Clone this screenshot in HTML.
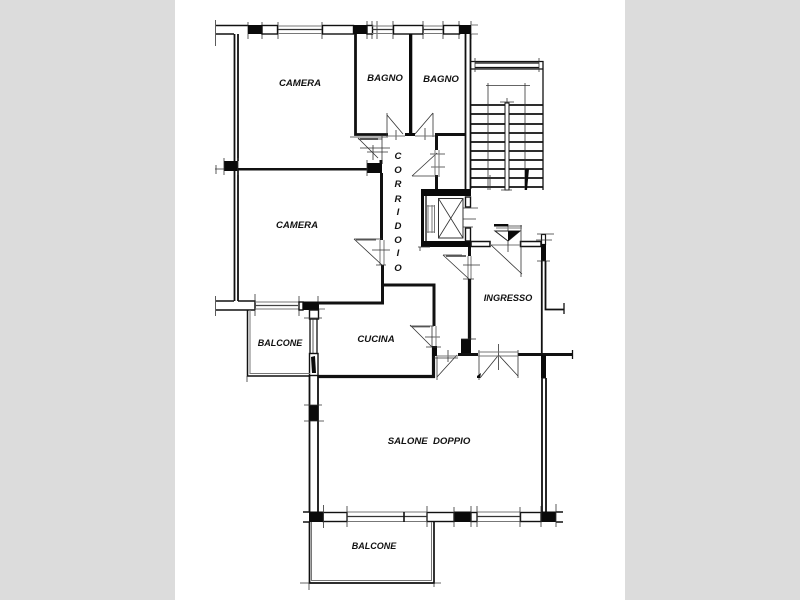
<!DOCTYPE html>
<html><head><meta charset="utf-8"><style>
html,body{margin:0;padding:0;background:#fff;width:800px;height:600px;overflow:hidden}
svg{display:block}
text{font-family:"Liberation Sans",sans-serif;font-weight:bold;font-style:italic;font-size:9.6px;fill:#111;text-anchor:middle}
.w{stroke:#111;fill:none}
.b{fill:#0a0a0a}
.t{stroke:#333;stroke-width:.8;fill:none}
.g{stroke:#777;stroke-width:1;fill:none}
.box{fill:#fff;stroke:#111;stroke-width:1.4}
</style></head><body>
<svg width="800" height="600" viewBox="0 0 800 600" xmlns="http://www.w3.org/2000/svg">
<rect width="800" height="600" fill="#fff"/>
<rect x="0" y="0" width="175" height="600" fill="#dcdcdc"/>
<rect x="625" y="0" width="175" height="600" fill="#dcdcdc"/>

<!-- top wall -->
<path class="w" stroke-width="1.5" d="M216 25.500H248M216 34H234"/>
<path class="t" d="M215.500 20V46M248 22V39M262 22V39M278 22V39M322 22V39M367 21V39M372 21V39M377 21V39M393 21V39M423 21V39M443 21V39M459 21V39M471 21V39"/>
<rect class="b" x="248" y="25" width="14" height="9"/>
<rect class="box" x="262" y="25.500" width="15.500" height="8.500"/>
<rect class="box" x="322.500" y="25.500" width="31" height="8.500"/>
<rect class="b" x="353" y="25" width="14" height="9"/>
<rect class="box" x="367" y="25.500" width="5.500" height="8.500"/>
<rect class="box" x="393.500" y="25.500" width="29.500" height="8.500"/>
<rect class="box" x="443.500" y="25.500" width="16" height="8.500"/>
<rect class="b" x="459" y="25" width="12" height="9"/>
<path class="g" d="M278 26H322M278 33.500H322M372 26H393M372 33.500H393M423 26H443M423 33.500H443M471 25H478M471 34H478"/>
<path stroke="#333" stroke-width="1.300" d="M278 29.500H322M372 29.500H393M423 29.500H443"/>

<!-- left exterior wall -->
<path class="w" stroke-width="1.800" d="M234.500 34V161M238 34V161M234.500 170V301M238 170V301"/>
<rect class="b" x="224" y="161" width="14" height="10"/>
<path class="t" d="M216 165V174M224 158V175M238 158V175M215 169H224"/>
<path class="w" stroke-width="2.500" d="M238 169.300H367"/>
<rect class="b" x="367" y="163" width="15" height="10"/>
<path class="t" d="M367 160V176"/>

<!-- bottom of camera 2 -->
<path class="w" stroke-width="1.600" d="M216 301H234M238 301H255M216 310H255M255 300.500V310"/>
<path class="t" d="M215.500 296V316M255 294V316M299 296V316M318 296V304"/>
<path class="g" d="M255 302H300M255 309H325"/>
<path stroke="#444" stroke-width="1.200" d="M255 305.500H298"/>
<rect class="box" x="299" y="302" width="4" height="8"/>
<rect class="b" x="303" y="301.500" width="16" height="8.500"/>
<path class="w" stroke-width="3" d="M318 303H382.500V265"/>
<path class="w" stroke-width="3" d="M381.500 173V240"/>
<path class="w" stroke-width="3" d="M381 160V164"/>
<path class="g" d="M380 240V265M384 240V265"/>
<path class="t" d="M354 239H382M354 239L382 265M372 250H390M376 265H386"/>
<path stroke="#555" stroke-width="2" d="M356 239.500H376"/>

<!-- bathrooms -->
<path class="w" stroke-width="2.800" d="M355.500 34V134.500H388"/>
<rect class="b" x="409" y="34" width="3.300" height="101"/>
<rect class="b" x="405" y="133" width="10" height="3"/>
<path class="t" d="M387 113V137M387 115L403 134M433 113V137M433 113L415 134M396 130V140M425 128V140M350 137H388"/>
<path class="g" d="M388 136H405M415 136H435"/>
<path class="w" stroke-width="3" d="M435 134.500H466"/>
<path class="w" stroke-width="3" d="M436.500 134V150M436.500 175V189"/>
<path class="t" d="M412 176H440M412 176L437 153M430 154H445M431 167H445"/>
<path class="g" d="M435 150V175M439 150V175"/>
<!-- corridor door -->
<path class="t" d="M358 138L378 158M358 139H382M382 136V160M373 145V160M360 148H390M367 152H388"/>
<path stroke="#555" stroke-width="2" d="M360 139H378"/>

<!-- right service wall -->
<path class="w" stroke-width="1.800" d="M465.500 34V189M470.500 34V189"/>

<!-- stairs -->
<path class="w" stroke-width="1.300" d="M471 61.500H543V190M471 69H543M475 63H539M475 67.500H539"/>
<path class="t" d="M475 58V72M539 58V72"/>
<path class="w" stroke-width="1.800" d="M471 105H505M509 105H543M471 114H505M509 114H543M471 124H505M509 124H543M471 133H505M509 133H543M471 142H505M509 142H543M471 151H505M509 151H543M471 160H505M509 160H543M471 169H505M509 169H543M471 178H505M509 178H543M471 187H505M509 187H543"/>
<rect x="505" y="103" width="4" height="87" fill="#fff" stroke="#111" stroke-width="1"/>
<path class="t" d="M488 83V190M525 83V190M486 85.500H530M488 180V190M490 175V190M500 102H514M501 190H512M507 98V103"/>
<polygon class="b" points="525,169 529,169 527,190 525,190"/>

<!-- elevator -->
<rect class="b" x="421" y="189" width="50" height="7"/>
<rect class="b" x="421" y="241" width="50" height="6"/>
<rect class="b" x="421" y="189" width="3" height="58"/>
<path class="w" stroke-width="1.300" d="M426 196V241"/>
<rect x="438.500" y="198.500" width="24.500" height="39.500" fill="#fff" stroke="#333" stroke-width="1"/>
<path class="t" d="M438.500 198.500L463 238M463 198.500L438.500 238"/>
<path class="g" d="M428 205V233M432 205V233M434.500 205V233M427 206H435M427 232H435"/>
<rect class="box" x="465.500" y="197" width="5" height="10"/>
<rect class="box" x="465.500" y="228" width="5" height="13"/>
<path class="t" d="M463 208H478M463 219H476M463 227H473M418 247H430M420 247V251"/>

<!-- ingresso -->
<rect x="471" y="241.500" width="19" height="5" fill="#fff" stroke="#111" stroke-width="1.500"/>
<rect x="520.500" y="241.500" width="20.500" height="5" fill="#fff" stroke="#111" stroke-width="1.500"/>
<path class="g" d="M490 245H520"/>
<path class="t" d="M491 245L522 274M521 225V277M508 224V252M494 226H522"/>
<rect class="b" x="494" y="224" width="14" height="2.500"/>
<path class="g" d="M496 228H522"/>
<polygon points="495,231 520,231 508,241" fill="#fff" stroke="#222" stroke-width="1"/>
<polygon class="b" points="508,231 520,231 508,241"/>
<rect x="541.500" y="234.500" width="4" height="10" fill="#fff" stroke="#111" stroke-width="1.200"/>
<rect class="b" x="541" y="244" width="5" height="17"/>
<path class="t" d="M537 234H554M537 261H550M536 240H552"/>
<path class="w" stroke-width="1.800" d="M541.800 261V354M545.500 261V309.500H564"/>
<path class="w" stroke-width="1.300" d="M564 303V314"/>
<!-- hall wall -->
<path class="w" stroke-width="3" d="M469.500 247V256"/>
<path class="g" d="M468 256V279M471 256V279"/>
<path class="t" d="M443 255H462M443 255L469 279M463 265H480M463 279H474"/>
<path stroke="#555" stroke-width="1.800" d="M446 256H466"/>
<path class="w" stroke-width="3.300" d="M469.500 279V340"/>
<rect class="b" x="461" y="339" width="10" height="17"/>
<path class="t" d="M461 339H476"/>
<path class="w" stroke-width="3" d="M458 354.500H478M518 354.500H572"/>
<path class="w" stroke-width="1.300" d="M572.500 350V359"/>
<path class="t" d="M479 350V380M518 350V378M498.600 344V370M498.600 355L480 378M498.600 355L518 376"/>
<path class="g" d="M478 352H518M478 356H518"/>
<polygon class="b" points="477,376 481,373 480,378 477,378"/>
<rect class="b" x="541" y="355" width="5" height="23"/>
<path class="w" stroke-width="1.800" d="M542 378V512M546 378V512"/>
<path class="w" stroke-width="1" d="M542 378H546"/>

<!-- kitchen -->
<path class="w" stroke-width="3" d="M381 285H434V326"/>
<path class="w" stroke-width="3.200" d="M433.500 347V376.500H318"/>
<rect class="b" x="432" y="346" width="5" height="10"/>
<path class="t" d="M410 325L432 347M410 326H434M425 337H440M432 326V346M426 347H441M437 355V380M437 377L457 355M434 358H458M448 350V362"/>
<path stroke="#555" stroke-width="1.800" d="M412 326.500H430"/>
<path class="g" d="M436 326V346M438 356H458"/>

<!-- kitchen / balcony junction -->
<rect class="box" x="309.500" y="310" width="9" height="9"/>
<path class="w" stroke-width="1.300" d="M310 319V353M317 319V353"/>
<path class="t" d="M313 319V353M304 318H322"/>
<rect class="box" x="309.500" y="353.500" width="8.500" height="22"/>
<polygon class="b" points="311,357 315,356 316,373 312,373"/>
<path class="w" stroke-width="1.800" d="M309.500 375V512M318 375V512"/>
<rect class="b" x="309" y="405" width="9" height="16"/>
<path class="t" d="M304 405H322M304 421H324"/>

<!-- left balcony -->
<path class="w" stroke-width="1.500" d="M247.500 310V376H310"/>
<path class="g" d="M250 310V373.500H310"/>
<path class="t" d="M247 376V382"/>

<!-- bottom wall -->
<path class="w" stroke-width="1.500" d="M303 512H309M556 512H563M303 522H309M556 522H563"/>
<rect class="b" x="309" y="511.500" width="14" height="10.500"/>
<rect class="box" x="323" y="512.500" width="24" height="9"/>
<rect class="box" x="427" y="512.500" width="27" height="9"/>
<rect class="b" x="454" y="511.500" width="17" height="10.500"/>
<rect class="box" x="471" y="512.500" width="6" height="9"/>
<rect class="box" x="520.500" y="512.500" width="20.500" height="9"/>
<rect class="b" x="541" y="511.500" width="15" height="10.500"/>
<path class="g" d="M347 512H427M347 521.500H427M477 512H520M477 521.500H520"/>
<path stroke="#333" stroke-width="1.300" d="M347 516.500H427M477 516.500H520"/>
<path class="w" stroke-width="1.600" d="M404 512V522"/>
<path class="t" d="M323.500 505V528M347 506V527M427 506V527M454 507V527M471 506V527M477 506V527M520 507V527M541 506V527M556 504V527"/>

<!-- lower balcony -->
<path class="w" stroke-width="1.700" d="M309.500 522V583H434V522"/>
<path class="g" d="M311.500 522V580.500H431.500V522"/>
<path class="t" d="M309 583V590M300 583H309M434 583H441M434 583V587"/>

<!-- labels -->
<text x="300" y="86">CAMERA</text>
<text x="297" y="228">CAMERA</text>
<text x="385" y="81">BAGNO</text>
<text x="441" y="82">BAGNO</text>
<text x="398" y="159">C</text>
<text x="398" y="173">O</text>
<text x="398" y="187">R</text>
<text x="398" y="202">R</text>
<text x="398" y="215">I</text>
<text x="398" y="229">D</text>
<text x="398" y="243">O</text>
<text x="398" y="256">I</text>
<text x="398" y="271">O</text>
<text x="508" y="301" style="font-size:9.200px">INGRESSO</text>
<text x="280" y="346" style="font-size:9px">BALCONE</text>
<text x="376" y="342">CUCINA</text>
<text x="429" y="444" xml:space="preserve">SALONE  DOPPIO</text>
<text x="374" y="549" style="font-size:9px">BALCONE</text>
</svg>
</body></html>
